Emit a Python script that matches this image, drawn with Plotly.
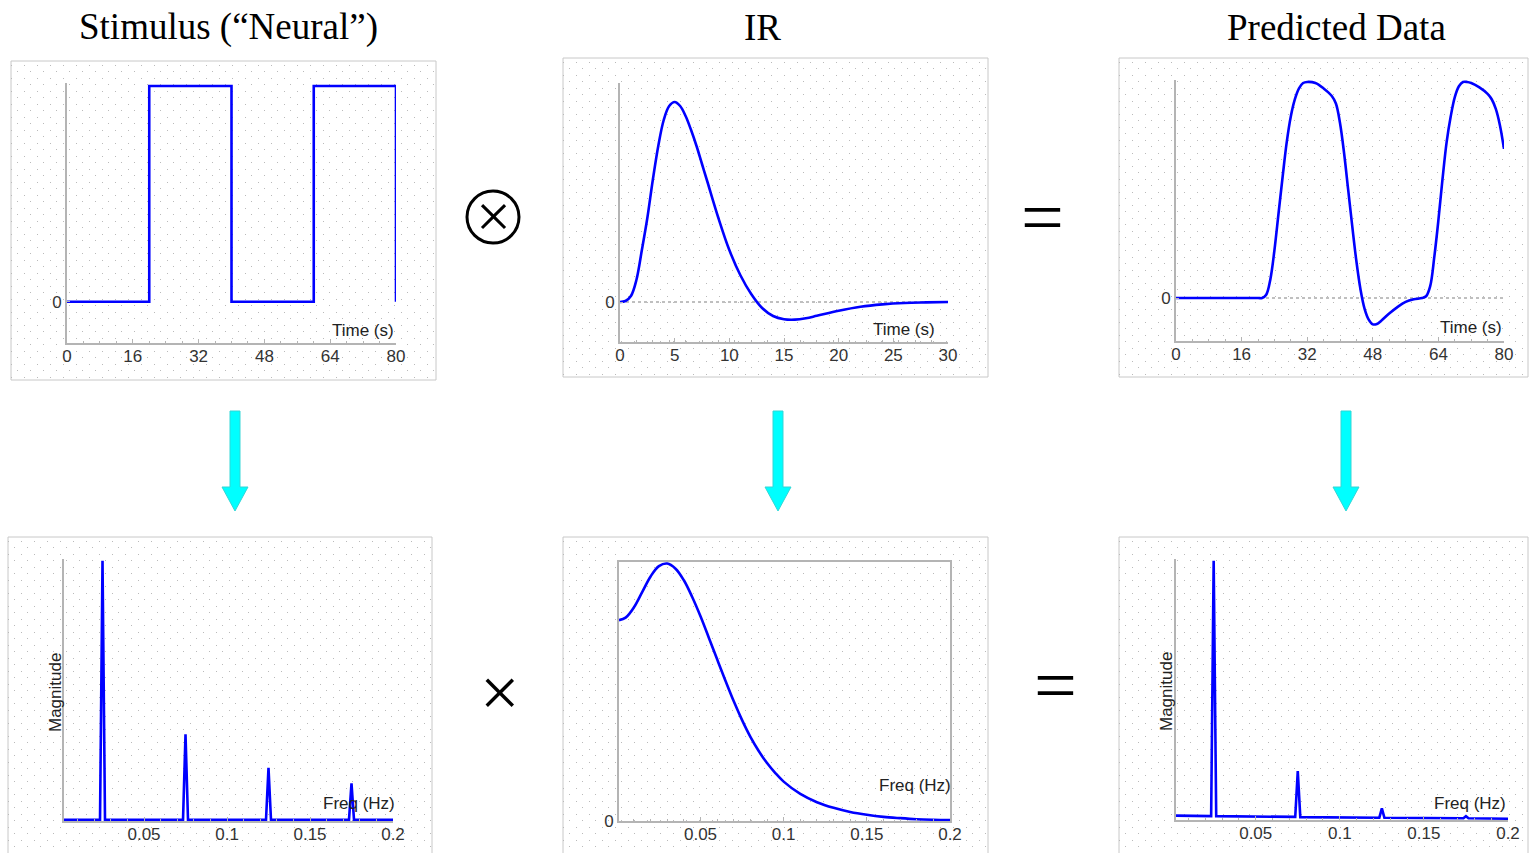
import plotly.graph_objects as go

W, H = 1530, 853

# ---------------- data ----------------
stim_t = [0, 20, 20, 40, 40, 60, 60, 80, 80]
stim_v = [0, 0, 1, 1, 0, 0, 1, 1, 0]

ir_t = [0, 0.5, 1, 1.5, 2, 2.5, 3, 3.5, 4, 4.5, 5, 5.5, 6, 6.5, 7, 7.5, 8, 9, 10, 11, 12,
        13, 14, 15, 16, 17, 18, 20, 22, 24, 26, 28, 30]
ir_v = [0, 0.005, 0.03, 0.11, 0.26, 0.42, 0.61, 0.78, 0.91, 0.98, 1.0, 0.98, 0.93,
        0.86, 0.78, 0.69, 0.60, 0.42, 0.26, 0.135, 0.04, -0.03, -0.07, -0.086, -0.088,
        -0.081, -0.069, -0.044, -0.024, -0.012, -0.005, -0.002, 0]

pred_t = [0, 20, 21, 22, 23, 24, 25, 26, 27, 28, 29, 30, 31, 32, 34, 36, 38, 39, 40,
          41, 42, 43, 44, 45, 46, 47, 48, 49, 50, 52, 54, 56, 58, 60, 61, 62, 63, 64,
          65, 66, 67, 68, 69, 70, 71, 72, 74, 76, 77, 78, 79, 80]
pred_v = [0, 0, 0, 0.015, 0.085, 0.22, 0.39, 0.56, 0.72, 0.84, 0.92, 0.97, 0.995, 1.0,
          0.995, 0.97, 0.935, 0.9, 0.81, 0.67, 0.5, 0.33, 0.17, 0.04, -0.05, -0.1,
          -0.122, -0.12, -0.106, -0.072, -0.042, -0.018, -0.006, 0, 0.008, 0.055, 0.19,
          0.36, 0.55, 0.72, 0.84, 0.93, 0.98, 1.0, 1.0, 0.995, 0.975, 0.945, 0.92, 0.875,
          0.8, 0.69]

stim_f = [0.0018, 0.0235, 0.025, 0.0265, 0.0735, 0.075, 0.0765, 0.1235, 0.125, 0.1265,
          0.1735, 0.175, 0.1765, 0.2]
stim_mag = [0, 0, 1, 0, 0, 0.33, 0, 0, 0.2, 0, 0, 0.14, 0, 0]

ir_f = [0.001, 0.005, 0.01, 0.015, 0.02, 0.025, 0.03, 0.035, 0.04, 0.045, 0.05, 0.055,
        0.06, 0.065, 0.07, 0.075, 0.08, 0.085, 0.09, 0.095, 0.1, 0.11, 0.12, 0.13, 0.14,
        0.15, 0.16, 0.17, 0.18, 0.19, 0.2]
ir_mag = [0.78, 0.79, 0.83, 0.89, 0.95, 0.99, 1.0, 0.98, 0.935, 0.87, 0.795, 0.712,
          0.628, 0.545, 0.465, 0.392, 0.327, 0.272, 0.225, 0.186, 0.153, 0.105, 0.073,
          0.051, 0.035, 0.024, 0.016, 0.011, 0.007, 0.005, 0.004]

pred_f = [0.0026, 0.0235, 0.025, 0.0265, 0.0735, 0.075, 0.0765, 0.1235, 0.125, 0.1265,
          0.1735, 0.175, 0.1765, 0.2]
pred_mag = [0.012, 0.01, 1, 0.01, 0.007, 0.185, 0.006, 0.004, 0.04, 0.004, 0.002, 0.01,
            0.002, 0.0]

time_ticks = [0, 16, 32, 48, 64, 80]
ir_ticks = [0, 5, 10, 15, 20, 25, 30]
freq_ticks = [0.05, 0.1, 0.15, 0.2]
freq_ticktext = ["0.05", "0.1", "0.15", "0.2"]

titles = ["Stimulus (\u201cNeural\u201d)", "IR", "Predicted Data"]

# ---------------- helpers ----------------
def fx(p):
    return p / W


def fy(p):
    return 1 - p / H


BLUE = "#0000ff"
AXC = "#b4b4b4"
DOT = "#bababa"
TICKFONT = dict(family="Liberation Sans, Arial", size=17, color="#333333")

# panel frames (px): x0, y0, x1, y1
boxes = [
    (11, 61, 436, 380),
    (563, 58, 988, 377),
    (1119, 58, 1528, 377),
    (8, 537, 432, 853),
    (563, 537, 988, 853),
    (1119, 537, 1528, 853),
]

fig = go.Figure()
layout = dict(
    width=W, height=H, margin=dict(l=0, r=0, t=0, b=0, pad=0, autoexpand=False),
    autosize=False, paper_bgcolor="white", plot_bgcolor="rgba(0,0,0,0)",
    showlegend=False,
)
shapes = []
annotations = []

# background dotted panels
for i, (x0, y0, x1, y1) in enumerate(boxes, start=1):
    hpx = y1 - y0
    layout[f"xaxis{i}"] = dict(domain=[fx(x0), fx(x1)], range=[0, 1], anchor=f"y{i}",
                               showgrid=False, showticklabels=False, zeroline=False,
                               showline=False, ticks="", fixedrange=True,
                               automargin=False)
    layout[f"yaxis{i}"] = dict(domain=[max(fy(y1), 0), fy(y0)], range=[hpx, 0],
                               anchor=f"x{i}", showgrid=True, gridcolor=DOT,
                               gridwidth=1, griddash="1px,12px", tick0=4, dtick=13,
                               showticklabels=False, zeroline=False, showline=False,
                               ticks="", fixedrange=True, automargin=False,
                               minor=dict(showgrid=True, gridcolor=DOT, gridwidth=1,
                                          griddash="0px,6px,1px,6px", tick0=4, dtick=6.5))
    fig.add_trace(go.Scatter(x=[None], y=[None], mode="lines", xaxis=f"x{i}",
                             yaxis=f"y{i}", hoverinfo="skip"))
    shapes.append(dict(type="rect", xref="paper", yref="paper", x0=fx(x0), x1=fx(x1),
                       y0=fy(y1 + 10 if y1 >= H else y1), y1=fy(y0),
                       line=dict(color="#c8c8c8", width=1), layer="below"))


def data_axes(i, xd, yd, xr, yr, xt, xtt, yt, mirror=False, dminor=None):
    ax = dict(domain=[fx(xd[0]), fx(xd[1])], range=xr, anchor=f"y{i}", showline=True,
              linecolor=AXC, linewidth=2, tickvals=xt, ticktext=xtt, ticks="inside",
              ticklen=4, tickcolor=AXC, tickfont=TICKFONT, showgrid=False,
              zeroline=False, mirror=mirror, fixedrange=True, ticklabelstandoff=-3,
              automargin=False)
    if dminor:
        ax["minor"] = dict(ticks="inside", ticklen=2, tickcolor=AXC, dtick=dminor)
    ay = dict(domain=[fy(yd[1]), fy(yd[0])], range=yr, anchor=f"x{i}", showline=True,
              linecolor=AXC, linewidth=2, tickvals=yt, ticktext=["0"] * len(yt),
              ticks="inside", ticklen=3, tickcolor=AXC, tickfont=TICKFONT,
              showgrid=False, zeroline=False, mirror=mirror, fixedrange=True,
              automargin=False)
    layout[f"xaxis{i}"] = ax
    layout[f"yaxis{i}"] = ay


data_axes(7, (67, 396), (83, 343), [0, 80], [-0.191, 1.014], time_ticks,
          [str(v) for v in time_ticks], [0], dminor=4)
data_axes(8, (620, 948), (83, 342), [0, 30], [-0.2, 1.095], ir_ticks,
          [str(v) for v in ir_ticks], [0], dminor=1.5)
data_axes(9, (1176, 1504), (80, 341), [0, 80], [-0.199, 1.009], time_ticks,
          [str(v) for v in time_ticks], [0], dminor=4)
data_axes(10, (64, 393), (559, 821), [0.0018, 0.2], [-0.005, 1.007], freq_ticks,
          freq_ticktext, [], dminor=0.01)
data_axes(11, (619, 950), (562, 821), [0.001, 0.2], [0, 1.006], freq_ticks,
          freq_ticktext, [0], mirror=True, dminor=0.01)
data_axes(12, (1176, 1508), (559, 820), [0.0026, 0.2], [-0.005, 1.007], freq_ticks,
          freq_ticktext, [], dminor=0.01)

# zero reference lines (dotted) for IR and predicted data
for i in (8, 9):
    shapes.append(dict(type="line", xref=f"x{i} domain", yref=f"y{i}", x0=0, x1=1, y0=0,
                       y1=0, line=dict(color="#aaaaaa", width=1.5, dash="dot"),
                       layer="below"))

# traces
series = [
    (7, stim_t, stim_v, "linear"),
    (8, ir_t, ir_v, "spline"),
    (9, pred_t, pred_v, "spline"),
    (10, stim_f, stim_mag, "linear"),
    (11, ir_f, ir_mag, "spline"),
    (12, pred_f, pred_mag, "linear"),
]
for i, xs, ys, shape in series:
    fig.add_trace(go.Scatter(x=xs, y=ys, mode="lines", xaxis=f"x{i}", yaxis=f"y{i}",
                             line=dict(color=BLUE, width=2.6, shape=shape),
                             hoverinfo="skip"))

# titles
for txt, cx in zip(titles, [228, 762, 1336]):
    annotations.append(dict(text=txt, x=fx(cx), y=fy(27), xref="paper", yref="paper",
                            showarrow=False, xanchor="center", yanchor="middle",
                            font=dict(family="Liberation Serif, Times New Roman", size=37,
                                      color="black")))

# axis labels
lab_font = dict(family="Liberation Sans, Arial", size=17, color="#222222")
for txt, rx, cy in [("Time (s)", 396, 331), ("Time (s)", 937, 329), ("Time (s)", 1504, 327),
                    ("Freq (Hz)", 397, 803), ("Freq (Hz)", 953, 785),
                    ("Freq (Hz)", 1508, 803)]:
    annotations.append(dict(text=txt, x=fx(rx), y=fy(cy), xref="paper", yref="paper",
                            showarrow=False, xanchor="right", yanchor="middle",
                            font=lab_font))
for cx in (55, 1166):
    annotations.append(dict(text="Magnitude", x=fx(cx), y=fy(692), xref="paper",
                            yref="paper", showarrow=False, textangle=-90,
                            xanchor="center", yanchor="middle", font=lab_font))

# operators
op_serif = "Liberation Serif, Times New Roman"
# circle of the convolution operator
shapes.append(dict(type="circle", xref="paper", yref="paper", x0=fx(467), x1=fx(519),
                   y0=fy(243), y1=fy(191), line=dict(color="black", width=3)))
for txt, cx, cy, sz in [("\u00d7", 493, 216, 62),
                        ("=", 1042, 217, 76),
                        ("\u00d7", 499, 692, 70),
                        ("=", 1055, 685, 76)]:
    annotations.append(dict(text=txt, x=fx(cx), y=fy(cy), xref="paper", yref="paper",
                            showarrow=False, xanchor="center", yanchor="middle",
                            font=dict(family=op_serif, size=sz, color="black")))

# cyan arrows
for cx in (235, 778, 1346):
    pts = [(cx - 5, 411), (cx + 5, 411), (cx + 5, 487), (cx + 13, 487), (cx, 511),
           (cx - 13, 487), (cx - 5, 487)]
    path = "M " + " L ".join(f"{fx(px):.5f},{fy(py):.5f}" for px, py in pts) + " Z"
    shapes.append(dict(type="path", xref="paper", yref="paper", path=path,
                       fillcolor="#00ffff", line=dict(color="#33d6d6", width=1)))

layout["shapes"] = shapes
layout["annotations"] = annotations
fig.update_layout(**layout)

page_fix = (
    "document.documentElement.style.margin='0';"
    "document.documentElement.style.padding='0';"
    "document.documentElement.style.overflow='hidden';"
    "document.body.style.margin='0';"
    "document.body.style.padding='0';"
    "document.body.style.overflow='hidden';"
    "var d=document.getElementById('{plot_id}');"
    "d.style.position='fixed';d.style.left='0px';d.style.top='0px';"
)
fig.write_html("out.html", config={"displayModeBar": False, "responsive": False},
               post_script=page_fix)
